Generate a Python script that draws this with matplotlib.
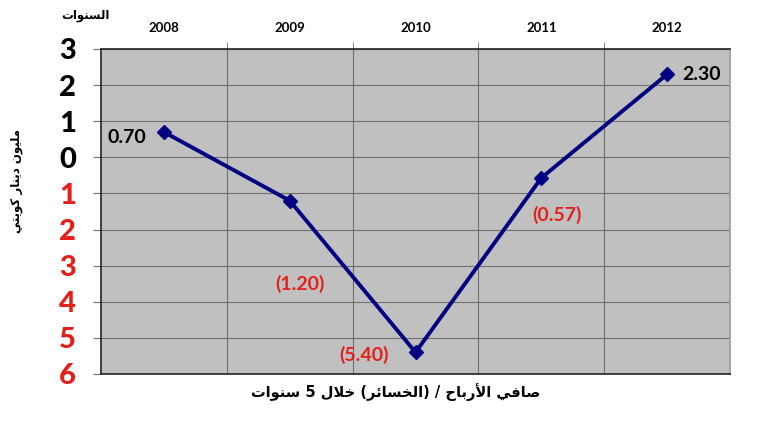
import re
import matplotlib
matplotlib.use("Agg")
import matplotlib.pyplot as plt

# data
years = ["2008", "2009", "2010", "2011", "2012"]
net_profit = [0.70, -1.20, -5.40, -0.57, 2.30]
value_labels = ["0.70", "(1.20)", "(5.40)", "(0.57)", "2.30"]
y_ticks = [3, 2, 1, 0, -1, -2, -3, -4, -5, -6]

title_text = "صافي الأرباح / (الخسائر) خلال 5 سنوات"
years_text = "السنوات"
unit_text = "مليون دينار كويتي"

# minimal arabic shaping: (isolated, final, initial, medial)
FORMS = {
    "\u0627": ("\uFE8D", "\uFE8E", None, None),
    "\u0623": ("\uFE83", "\uFE84", None, None),
    "\u0628": ("\uFE8F", "\uFE90", "\uFE91", "\uFE92"),
    "\u062A": ("\uFE95", "\uFE96", "\uFE97", "\uFE98"),
    "\u062D": ("\uFEA1", "\uFEA2", "\uFEA3", "\uFEA4"),
    "\u062E": ("\uFEA5", "\uFEA6", "\uFEA7", "\uFEA8"),
    "\u062F": ("\uFEA9", "\uFEAA", None, None),
    "\u0631": ("\uFEAD", "\uFEAE", None, None),
    "\u0633": ("\uFEB1", "\uFEB2", "\uFEB3", "\uFEB4"),
    "\u0635": ("\uFEB9", "\uFEBA", "\uFEBB", "\uFEBC"),
    "\u0641": ("\uFED1", "\uFED2", "\uFED3", "\uFED4"),
    "\u0643": ("\uFED9", "\uFEDA", "\uFEDB", "\uFEDC"),
    "\u0644": ("\uFEDD", "\uFEDE", "\uFEDF", "\uFEE0"),
    "\u0645": ("\uFEE1", "\uFEE2", "\uFEE3", "\uFEE4"),
    "\u0646": ("\uFEE5", "\uFEE6", "\uFEE7", "\uFEE8"),
    "\u0648": ("\uFEED", "\uFEEE", None, None),
    "\u064A": ("\uFEF1", "\uFEF2", "\uFEF3", "\uFEF4"),
    "\u0626": ("\uFE89", "\uFE8A", "\uFE8B", "\uFE8C"),
}
LAM_ALEF = {"\u0627": ("\uFEFB", "\uFEFC"), "\u0623": ("\uFEF7", "\uFEF8")}


def dual(c):
    return c in FORMS and FORMS[c][2] is not None


def shape(text):
    res = []
    i = 0
    n = len(text)
    while i < n:
        c = text[i]
        if c not in FORMS:
            res.append(c)
            i += 1
            continue
        join_prev = i > 0 and dual(text[i - 1])
        if c == "\u0644" and i + 1 < n and text[i + 1] in LAM_ALEF:
            iso, fin = LAM_ALEF[text[i + 1]]
            res.append(fin if join_prev else iso)
            i += 2
            continue
        join_next = dual(c) and i + 1 < n and text[i + 1] in FORMS
        iso, fin, ini, med = FORMS[c]
        if join_prev and join_next:
            res.append(med)
        elif join_prev:
            res.append(fin)
        elif join_next:
            res.append(ini)
        else:
            res.append(iso)
        i += 1
    out = "".join(reversed(res))
    out = out.translate(str.maketrans("()", ")("))
    out = re.sub(r"[0-9.]+", lambda m: m.group(0)[::-1], out)
    return out


NAVY = "#000080"
RED = "#e3201b"
num_font = ["Lato", "DejaVu Sans"]
ar_font = ["DejaVu Sans"]

fig = plt.figure(figsize=(7.7, 4.37), dpi=100)
ax = fig.add_axes([0.1312, 0.1442, 0.8169, 0.7437])
ax.set_facecolor("#c0c0c0")

x = list(range(len(years)))
ax.plot(x, net_profit, color=NAVY, lw=2.8, marker="D", ms=7, zorder=3)

ax.set_xlim(-0.5, len(years) - 0.5)
ax.set_ylim(-6, 3)

# years on top, grid at category boundaries
ax.xaxis.tick_top()
ax.set_xticks(x)
ax.set_xticklabels(years, fontsize=9.5, fontweight="bold", family=num_font)
ax.set_xticks([i + 0.5 for i in x[:-1]], minor=True)
ax.tick_params(axis="x", which="major", length=0, pad=11)
ax.tick_params(axis="x", which="minor", length=5, color="#707070", top=True)
ax.grid(axis="x", which="minor", color="#707070", lw=0.8)

ax.set_yticks(y_ticks)
ax.set_yticklabels([str(abs(v)) for v in y_ticks], fontsize=21,
                   fontweight="black", family=num_font)
for lab, v in zip(ax.get_yticklabels(), y_ticks):
    lab.set_color(RED if v < 0 else "black")
ax.tick_params(axis="y", length=6, color="#707070", pad=12)
ax.grid(axis="y", color="#707070", lw=0.8)
ax.set_axisbelow(True)

for side in ["left", "bottom", "top", "right"]:
    ax.spines[side].set_color("#303030")
    ax.spines[side].set_linewidth(1.3)
ax.spines["right"].set_color("#a0a0a0")

offsets = [(-27, -4), (7, -60), (-37, -2), (11, -27), (25, 0)]
for xi, v, lab, off in zip(x, net_profit, value_labels, offsets):
    ax.annotate(lab, (xi, v), xytext=off, textcoords="offset points",
                ha="center", va="center", fontsize=14, fontweight="bold",
                family=num_font, color=RED if v < 0 else "black")

fig.text(0.514, 0.103, shape(title_text), ha="center", va="center",
         fontsize=10.5, fontweight="bold", family=ar_font)
fig.text(0.111, 0.965, shape(years_text), ha="center", va="center",
         fontsize=8.5, fontweight="bold", family=ar_font)
fig.text(0.022, 0.585, shape(unit_text), ha="center", va="center",
         rotation=90, fontsize=8.5, fontweight="bold", family=ar_font)

fig.savefig("out.png", dpi=100, facecolor="white")
